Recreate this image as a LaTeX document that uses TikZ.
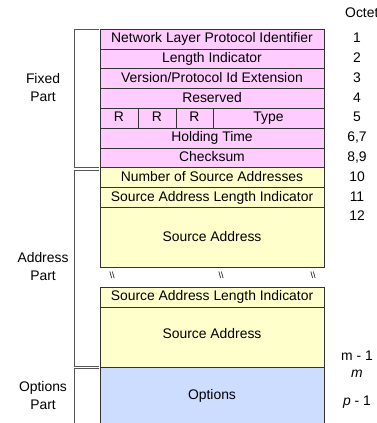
\documentclass[tikz,border=0pt]{standalone}
\usepackage{fontspec}
\setmainfont{Liberation Sans}
\definecolor{pinkf}{HTML}{FFCCFF}
\definecolor{yelf}{HTML}{FFFFCC}
\definecolor{bluef}{HTML}{CCDDFF}
\definecolor{edge}{HTML}{333333}
\definecolor{brk}{HTML}{555555}
\begin{document}
\begin{tikzpicture}[x=1pt,y=-1pt,
  every node/.style={font=\fontsize{13.9}{18}\selectfont, inner sep=0pt},
  txt/.style={text height=10pt, text depth=3pt},
  fld/.style={draw=edge, line width=1pt},
  brack/.style={draw=brk, line width=1pt},
  lbl/.style={align=center},
  oct/.style={anchor=center, text height=10pt, text depth=3pt}]
\useasboundingbox (0,0) rectangle (377,423);
\clip (0,0) rectangle (377,423);
% fixed part
\foreach \i/\t in {0/{Network Layer Protocol Identifier},1/{Length Indicator},2/{Version/Protocol Id Extension},3/{Reserved},5/{Holding Time},6/{Checksum}}{
  \path[fld, fill=pinkf] (100,{29.3+19.8*\i}) rectangle (324,{29.3+19.8*(\i+1)});
  \node[txt] (f\i) at (212,{39.2+19.8*\i}) {\t};
}
\path[fld, fill=pinkf] (100,108.5) rectangle (324,128.3);
\draw[fld] (138,108.5) -- (138,128.3) (176,108.5) -- (176,128.3) (213,108.5) -- (213,128.3);
\node[txt] (r1) at (119,118.4) {R};
\node[txt] (r2) at (157,118.4) {R};
\node[txt] (r3) at (194.5,118.4) {R};
\node[txt] (ty) at (268.5,118.4) {Type};
% address part
\path[fld, fill=yelf] (100,167.9) rectangle (324,187.7);
\node[txt] (nsa) at (212,177.8) {Number of Source Addresses};
\path[fld, fill=yelf] (100,187.7) rectangle (324,207.5);
\node[txt] (sali) at (212,197.6) {Source Address Length Indicator};
\path[fld, fill=yelf] (100,207.5) rectangle (324,267.3);
\node[txt] (sa) at (212,238) {Source Address};
\node[font=\fontsize{9}{9}\selectfont] (b1) at (112,275) {\textbackslash\textbackslash};
\node[font=\fontsize{9}{9}\selectfont] (b2) at (221,275) {\textbackslash\textbackslash};
\node[font=\fontsize{9}{9}\selectfont] (b3) at (313,275) {\textbackslash\textbackslash};
\path[fld, fill=yelf] (100,287) rectangle (324,307);
\node[txt] (sali2) at (212,297) {Source Address Length Indicator};
\path[fld, fill=yelf] (100,307) rectangle (324,367);
\node[txt] (sa2) at (212,335) {Source Address};
% options
\path[fld, fill=bluef] (100,367) rectangle (324,440);
\node[txt] (opt) at (212,396) {Options};
% brackets
\draw[brack] (99,29.3) -- (74.5,29.3) -- (74.5,167.8) -- (99,167.8);
\draw[brack] (99,170.3) -- (74.5,170.3) -- (74.5,366.3) -- (99,366.3);
\draw[brack] (99,368.3) -- (74.5,368.3) -- (74.5,440);
\node[lbl] (fp) at (43,88) {Fixed\\Part};
\node[lbl] (ap) at (43,267) {Address\\Part};
\node[lbl] (op) at (43,396) {Options\\Part};
% octets
\node[anchor=west, txt] (oc) at (345,14) {Octet};
\foreach \i/\t in {0/1,1/2,2/3,3/4,4/5,5/{6,7},6/{8,9},7/10,8/11,9/12}{
  \node[oct] (o\i) at (357,{39.2+19.8*\i}) {\t};
}
\node[oct] (om1) at (357,357) {m - 1};
\node[oct] (om) at (357,374) {\textit{m}};
\node[oct] (op1) at (357,402) {\textit{p} - 1};
\end{tikzpicture}
\end{document}
